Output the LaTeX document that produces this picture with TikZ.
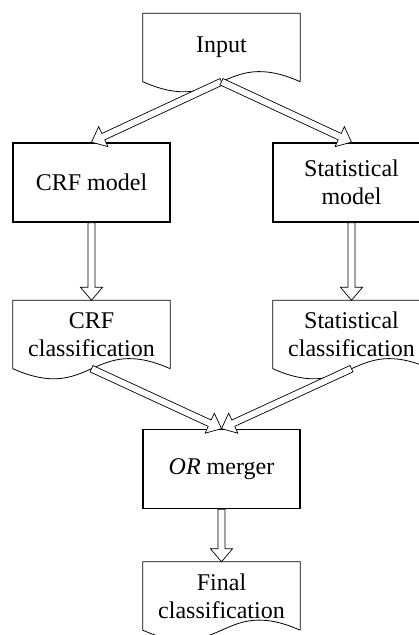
\documentclass[tikz,border=0pt]{standalone}
\usepackage{fontspec}
\setmainfont{Liberation Serif}
\usetikzlibrary{calc}
\tikzset{
  txt/.style={align=center, inner sep=0pt, font=\fontsize{24}{28}\selectfont},
  procbox/.style={txt, draw, line width=1.7pt, minimum width=157pt, minimum height=79pt},
  docbox/.style={txt, minimum width=157pt, minimum height=68pt},
  docline/.style={draw, line width=0.8pt},
  blockarr/.style={draw, fill=white, line width=0.7pt, line join=miter}
}
\newcommand\docshape[1]{%
  \draw[docline] (#1.south east) -- (#1.north east) -- (#1.north west) -- (#1.south west)
    .. controls ($(#1.south)+(0,35)$) and ($(#1.south)+(0,-35)$) .. (#1.south east);}
\newcommand\barrow[2]{%
  \coordinate (hb) at ($(#2)!13pt!(#1)$);
  \draw[blockarr] ($(#1)!3.5pt!90:(#2)$) -- ($(hb)!3.5pt!-90:(#1)$) -- ($(hb)!11pt!-90:(#1)$)
    -- (#2) -- ($(hb)!11pt!90:(#1)$) -- ($(hb)!3.5pt!90:(#1)$) -- ($(#1)!3.5pt!-90:(#2)$) -- cycle;}
\begin{document}
\begin{tikzpicture}[x=1pt,y=-1pt]
\clip (0,0) rectangle (419,635);
\fill[white] (0,0) rectangle (419,635);
% nodes
\node[docbox] (in) at (221.5,47.5) {Input};
\node[procbox] (crf) at (91.5,182.5) {CRF model};
\node[procbox] (st) at (351.5,182.5) {Statistical\\model};
\node[docbox] (crfc) at (91.5,334.5) {CRF\\classification};
\node[docbox] (stc) at (351.5,334.5) {Statistical\\classification};
\node[procbox] (or) at (221.5,469) {\textit{OR} merger};
\node[docbox] (fin) at (221.5,596) {Final\\classification};
% document outlines
\docshape{in}
\docshape{crfc}
\docshape{stc}
\docshape{fin}
% arrows
\barrow{in.south}{crf.north}
\barrow{in.south}{st.north}
\barrow{crf.south}{crfc.north}
\barrow{st.south}{stc.north}
\barrow{crfc.south}{or.north}
\barrow{stc.south}{or.north}
\barrow{or.south}{fin.north}
\end{tikzpicture}
\end{document}
